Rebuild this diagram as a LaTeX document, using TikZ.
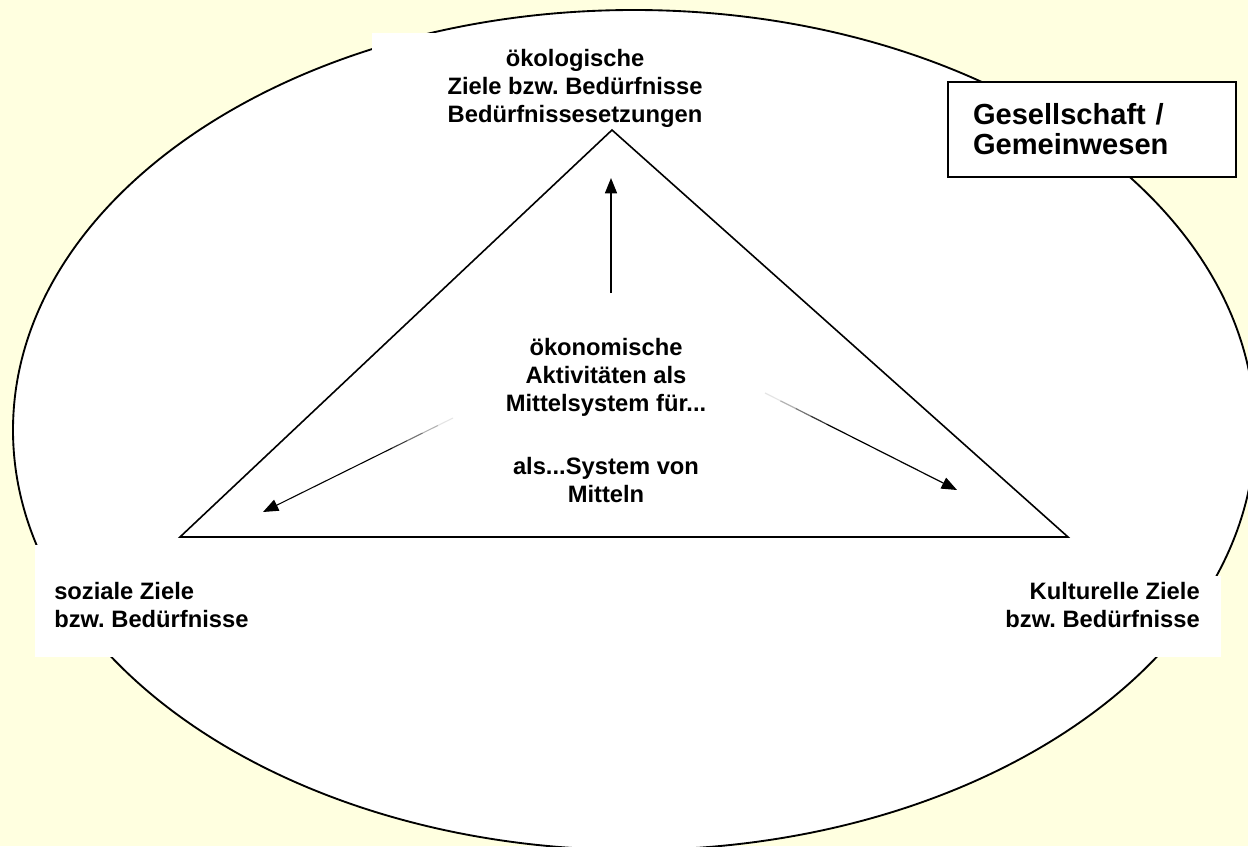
\documentclass[tikz,border=0pt]{standalone}
\usepackage{fontspec}
\setmainfont{Liberation Sans}
\usetikzlibrary{arrows.meta,calc}
\definecolor{bg}{RGB}{255,255,224}
\frenchspacing
\begin{document}
\begin{tikzpicture}[x=0.75pt,y=-0.75pt,
  lbl/.style={font=\fontsize{17.8}{21}\selectfont\bfseries, inner sep=0pt},
  big/.style={font=\fontsize{21.8}{22.5}\selectfont\bfseries, inner sep=0pt},
  cover/.style={fill=white, draw=none},
  tri/.style={draw=black, line width=1.2pt, line join=miter},
  arr/.style={line width=1.1pt, -{Triangle[length=11.5pt, width=9pt]}},
  thinarr/.style={line width=0.8pt, -{Triangle[length=11.5pt, width=9pt]}}]
\useasboundingbox (0,0) rectangle (1248,846);
\fill[bg] (0,0) rectangle (1248,846);
% ellipse (Gesellschaft)
\draw[fill=white, line width=1.4pt] (634,430) ellipse [x radius=621, y radius=420];
% white label areas
\fill[cover] (372,33) rectangle (776,135);
\fill[cover] (35,545) rectangle (290,657);
\fill[cover] (1000,576) rectangle (1221,657);
% triangle
\coordinate (tl) at (180,537);
\coordinate (tt) at (612,130);
\coordinate (tr) at (1068,537);
\draw[tri] (tl) -- (tt) -- (tr) -- cycle;
% labels
\node[lbl, align=center] (oeko) at (575,88) {ökologische\\Ziele bzw. Bedürfnisse\\Bedürfnissesetzungen};
\node[lbl, align=left, anchor=west] (soz) at (54,605) {soziale Ziele\\bzw. Bedürfnisse};
\node[lbl, align=right, anchor=east] (kult) at (1200,605) {Kulturelle Ziele\\bzw. Bedürfnisse};
\node[lbl, align=center] (oekon) at (606,377) {ökonomische\\Aktivitäten als\\Mittelsystem für...};
\node[lbl, align=center] (mittel) at (606,480) {als...System von\\Mitteln};
\node[big, align=left, draw, line width=1.1pt, fill=white, text width=238*0.75pt, inner xsep=25*0.75pt, minimum height=95*0.75pt] (ges) at (1092,129.5) {Gesellschaft /\\Gemeinwesen};
% arrows
\coordinate (us) at (611,293);
\coordinate (ue) at (611,178);
\draw[arr] (us) -- (ue);
\coordinate (ls) at (453,418);
\coordinate (le) at (263,512);
\coordinate (rs) at (765,393);
\coordinate (re) at (957,490);
\foreach \a/\b/\c in {0/0.08/10,0.08/0.16/30,0.16/0.24/55,0.24/0.32/80}{
  \draw[line width=0.8pt, black!\c] ($(ls)!\a!(le)$) -- ($(ls)!\b!(le)$);
  \draw[line width=0.9pt, black!\c] ($(rs)!\a!(re)$) -- ($(rs)!\b!(re)$);
}
\draw[thinarr] ($(ls)!0.32!(le)$) -- (le);
\draw[thinarr, line width=0.9pt] ($(rs)!0.32!(re)$) -- (re);
\end{tikzpicture}
\end{document}
